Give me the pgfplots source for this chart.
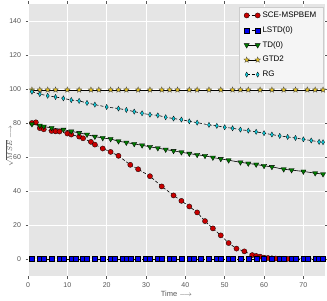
\documentclass[border=0pt]{standalone}
\usepackage{pgfplots}
\pgfplotsset{compat=1.18}
\usepackage{fontspec}
\setmainfont{Liberation Sans}
\usetikzlibrary{plotmarks}
\definecolor{bggray}{HTML}{E5E5E5}
\definecolor{tickgray}{HTML}{555555}
\definecolor{mred}{HTML}{C80000}
\definecolor{mblue}{HTML}{0000F0}
\definecolor{mgreen}{HTML}{007A00}
\definecolor{mgold}{HTML}{E0BE1E}
\definecolor{mcyan}{HTML}{10D0E0}
\pgfdeclareplotmark{fstar}{%
  \pgfpathmoveto{\pgfpointpolar{90}{\pgfplotmarksize}}%
  \pgfpathlineto{\pgfpointpolar{126}{0.42\pgfplotmarksize}}%
  \pgfpathlineto{\pgfpointpolar{162}{\pgfplotmarksize}}%
  \pgfpathlineto{\pgfpointpolar{198}{0.42\pgfplotmarksize}}%
  \pgfpathlineto{\pgfpointpolar{234}{\pgfplotmarksize}}%
  \pgfpathlineto{\pgfpointpolar{270}{0.42\pgfplotmarksize}}%
  \pgfpathlineto{\pgfpointpolar{306}{\pgfplotmarksize}}%
  \pgfpathlineto{\pgfpointpolar{342}{0.42\pgfplotmarksize}}%
  \pgfpathlineto{\pgfpointpolar{18}{\pgfplotmarksize}}%
  \pgfpathlineto{\pgfpointpolar{54}{0.42\pgfplotmarksize}}%
  \pgfpathclose
  \pgfusepathqfillstroke
}
\begin{document}
\begin{tikzpicture}
\begin{axis}[
  name=ax,
  scale only axis,
  width=297pt, height=272pt,
  xmin=0, xmax=75.5, ymin=-10, ymax=150,
  xtick={0,10,...,70}, ytick={0,20,...,140},
  axis background/.style={fill=bggray},
  axis line style={draw=none},
  grid=major,
  major grid style={white, line width=0.9pt},
  tick pos=both, tick align=outside,
  major tick length=2.5pt,
  tick style={tickgray, line width=0.5pt},
  tick label style={font=\fontsize{7}{8}\selectfont, text=tickgray},
  /pgf/number format/assume math mode=true,
  xticklabel style={yshift=-1pt},
  yticklabel style={xshift=-1pt},
  xlabel={Time $\longrightarrow$},
  ylabel={$\sqrt{MSE}\longrightarrow$},
  label style={font=\fontsize{7.5}{9}\selectfont, text=tickgray},
  xlabel style={yshift=4pt},
  ylabel style={yshift=-10.5pt, xshift=-6pt},
  legend style={at={(0.995,0.99)}, anchor=north east, fill=white!60!bggray, draw=black!20,
    font=\fontsize{8}{10}\selectfont, row sep=3.6pt, inner xsep=5pt, inner ysep=3pt},
  legend cell align=left,
  legend image code/.code={\draw[#1] plot coordinates {(0pt,0pt) (11pt,0pt)};},
  every axis plot/.append style={line width=0.6pt},
]
\addplot[black, dash pattern=on 3pt off 2pt, mark=*, mark size=2.6pt, mark options={solid, fill=mred, draw=black, line width=0.3pt}] coordinates {
(1,80) (2,80.4) (3,77) (4,76.3) (6,75.3) (7,75.1) (8,75) (10,73.8) (11,73.2) (13,72) (14,71) (16,68.9) (17,67.3) (19,65) (21,63) (23,60.7) (26,55.4) (28,52.8) (31,48.7) (34,42.7) (37,37.4) (39,34.2) (41,30.9) (43,27.4) (45,22.3) (47,18) (49,13.9) (51,9.4) (53,6.1) (55,4.5) (57,2.3) (58,1.8) (59,1.4) (60,0.8) (61,0.6) (62,0.4) (63,0.3) (64,0.2) (65,0.15) (66,0.1) (68,0.05) (71,0.02) (74,0) (75,0)
};
\addlegendentry{SCE-MSPBEM}
\addplot[black, dash pattern=on 3pt off 2pt, mark=square*, mark size=2.5pt, mark options={solid, fill=mblue, draw=black, line width=0.3pt}] coordinates {
(1,0) (3,0) (4,0) (6,0) (8,0) (9,0) (11,0) (12,0) (14,0) (15,0) (17,0) (19,0) (21,0) (22,0) (24,0) (25,0) (26,0) (28,0) (30,0) (31,0) (33,0) (34,0) (36,0) (37,0) (39,0) (41,0) (42,0) (44,0) (46,0) (48,0) (49,0) (51,0) (52,0) (54,0) (56,0) (58,0) (60,0) (62,0) (64,0) (65,0) (67,0) (68,0) (70,0) (71,0) (73,0) (74,0) (75,0)
};
\addlegendentry{LSTD(0)}
\addplot[black, solid, mark=triangle*, mark size=3pt, mark options={rotate=180, fill=mgreen, draw=black, line width=0.3pt}] coordinates {
(1,79.3) (3,78.5) (4,77.9) (6,77.1) (9,76.1) (11,75.1) (13,74.2) (15,73.2) (17,72) (19,71.2) (21,70.6) (23,69.3) (25,68.5) (27,67.7) (29,66.9) (31,66) (33,65.2) (35,64.4) (37,63.6) (39,62.8) (41,62) (43,61.3) (45,60.7) (47,59.7) (49,58.9) (51,58.1) (54,56.9) (56,56.2) (58,55.6) (60,54.8) (62,54.2) (65,52.8) (67,52.3) (70,51.5) (73,50.5) (75,49.9)
};
\addlegendentry{TD(0)}
\addplot[black, solid, mark=fstar, mark size=3pt, mark options={fill=mgold, draw=black!70, line width=0.3pt}] coordinates {
(1,99.5) (3,99.5) (5,99.5) (7,99.5) (10,99.5) (13,99.5) (16,99.5) (18,99.5) (21,99.5) (23,99.5) (25,99.5) (28,99.5) (31,99.5) (34,99.5) (36,99.5) (38,99.5) (41,99.5) (43,99.5) (46,99.5) (49,99.5) (52,99.5) (54,99.5) (56,99.5) (59,99.5) (62,99.5) (65,99.5) (68,99.5) (71,99.5) (73,99.5) (75,99.5)
};
\addlegendentry{GTD2}
\addplot[black, dash pattern=on 3pt off 2pt, mark=diamond*, mark size=2.6pt, mark options={solid, xscale=0.75, fill=mcyan, draw=black, line width=0.3pt}] coordinates {
(1,98.4) (3,97) (5,96) (7,95.3) (9,94.5) (11,93.5) (13,93) (15,91.8) (17,90.8) (20,89.4) (23,88.5) (25,87.7) (27,86.7) (29,85.7) (31,84.9) (33,84.5) (35,83.4) (37,82.6) (39,82) (41,81) (43,80.2) (46,78.9) (48,78.3) (50,77.5) (52,76.9) (54,76.1) (56,75.5) (58,74.8) (60,74) (62,73.2) (64,72.4) (66,71.8) (68,71.2) (70,70.4) (72,69.7) (74,68.9) (75,68.7)
};
\addlegendentry{RG}
\end{axis}
\pgfresetboundingbox
\path ([shift={(-28pt,-24pt)}]ax.south west) rectangle ([shift={(2pt,4pt)}]ax.north east);
\end{tikzpicture}
\end{document}
